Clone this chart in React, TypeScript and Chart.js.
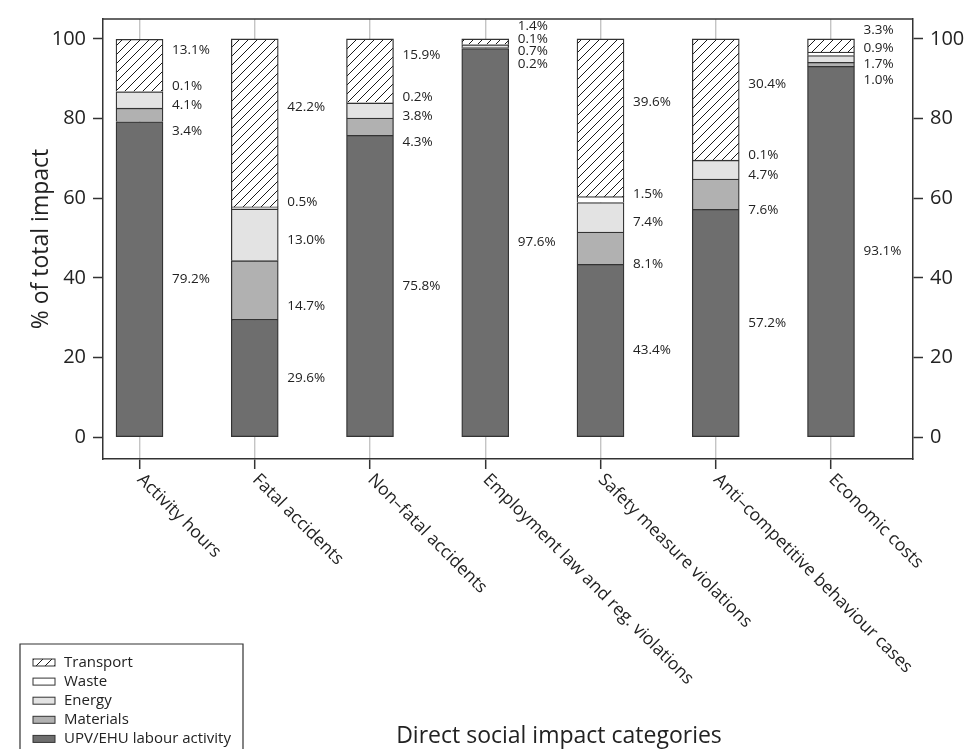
import { useEffect, useRef } from 'react';
import { Chart, registerables } from 'chart.js';

Chart.register(...registerables);

const categories = [
  'Activity hours',
  'Fatal accidents',
  'Non–fatal accidents',
  'Employment law and reg. violations',
  'Safety measure violations',
  'Anti–competitive behaviour cases',
  'Economic costs',
];
const labour = [79.2, 29.6, 75.8, 97.6, 43.4, 57.2, 93.1];
const materials = [3.4, 14.7, 4.3, 0.2, 8.1, 7.6, 1.0];
const energy = [4.1, 13.0, 3.8, 0.7, 7.4, 4.7, 1.7];
const waste = [0.1, 0.5, 0.2, 0.1, 1.5, 0.1, 0.9];
const transport = [13.1, 42.2, 15.9, 1.4, 39.6, 30.4, 3.3];
const yTicks = [0, 20, 40, 60, 80, 100];
const seriesNames = ['UPV/EHU labour activity', 'Materials', 'Energy', 'Waste', 'Transport'];

const FONT = '"Open Sans", "DejaVu Sans", sans-serif';
const INK = '#222';
const LINE = '#333';

function makeHatch(): CanvasPattern | string {
  const s = 9;
  const c = document.createElement('canvas');
  c.width = s;
  c.height = s;
  const g = c.getContext('2d');
  if (!g) return '#fff';
  g.fillStyle = '#fff';
  g.fillRect(0, 0, s, s);
  g.strokeStyle = '#1a1a1a';
  g.lineWidth = 1;
  g.beginPath();
  g.moveTo(0, s);
  g.lineTo(s, 0);
  g.moveTo(-s / 2, s / 2);
  g.lineTo(s / 2, -s / 2);
  g.moveTo(s / 2, s * 1.5);
  g.lineTo(s * 1.5, s / 2);
  g.stroke();
  return g.createPattern(c, 'repeat') || '#fff';
}

export default function App() {
  const ref = useRef<HTMLCanvasElement | null>(null);

  useEffect(() => {
    if (!ref.current) return;
    const hatch = makeHatch();
    const fills: any[] = ['#6e6e6e', '#b1b1b1', '#e3e3e3', '#ffffff', hatch];
    const values = [labour, materials, energy, waste, transport];
    const labelShift = [0, 15.7, 5.3, -5.3, -15.7];

    const datasets = values.map((arr, k) => ({
      label: seriesNames[k],
      data: arr.map((v, i) => ({ x: i, y: v })),
      backgroundColor: fills[k],
      borderColor: LINE,
      borderWidth: 1.3,
      borderSkipped: k === 0 ? false : 'bottom',
      barThickness: 47,
      labelShift: labelShift[k],
    }));

    const decor = {
      id: 'decor',
      afterDatasetsDraw(chart: any) {
        const ctx = chart.ctx;
        ctx.save();
        ctx.font = `13.5px ${FONT}`;
        ctx.fillStyle = INK;
        ctx.textAlign = 'left';
        ctx.textBaseline = 'middle';
        chart.data.datasets.forEach((ds: any, di: number) => {
          const meta = chart.getDatasetMeta(di);
          meta.data.forEach((el: any, i: number) => {
            const p = el.getProps(['x', 'y', 'base', 'width'], true);
            const cy = (p.y + p.base) / 2 + ds.labelShift;
            const v = values[di][i];
            ctx.fillText(v.toFixed(1) + '%', p.x + p.width / 2 + 9, cy);
          });
        });
        ctx.restore();
      },
      afterDraw(chart: any) {
        const ctx = chart.ctx;
        const a = chart.chartArea;
        const xs = chart.scales.x;
        ctx.save();
        // top frame line
        ctx.strokeStyle = LINE;
        ctx.lineWidth = 1.5;
        ctx.beginPath();
        ctx.moveTo(a.left, a.top);
        ctx.lineTo(a.right, a.top);
        ctx.stroke();

        // rotated category labels
        ctx.fillStyle = INK;
        ctx.font = `17.5px ${FONT}`;
        ctx.textAlign = 'left';
        ctx.textBaseline = 'middle';
        categories.forEach((c, i) => {
          const px = xs.getPixelForValue(i);
          ctx.save();
          ctx.translate(px + 0.5, a.bottom + 18);
          ctx.rotate(Math.PI / 4);
          ctx.fillText(c, 0, 0);
          ctx.restore();
        });

        // axis titles
        ctx.font = `23px ${FONT}`;
        ctx.textAlign = 'center';
        ctx.textBaseline = 'alphabetic';
        ctx.fillText('Direct social impact categories', 559, 743);
        ctx.save();
        ctx.translate(48, (a.top + a.bottom) / 2);
        ctx.rotate(-Math.PI / 2);
        ctx.textBaseline = 'alphabetic';
        ctx.fillText('% of total impact', 0, 0);
        ctx.restore();

        // legend
        ctx.strokeStyle = LINE;
        ctx.lineWidth = 1.2;
        ctx.beginPath();
        ctx.moveTo(20, 760);
        ctx.lineTo(20, 644);
        ctx.lineTo(243, 644);
        ctx.lineTo(243, 760);
        ctx.stroke();
        ctx.font = `15px ${FONT}`;
        ctx.textAlign = 'left';
        ctx.textBaseline = 'middle';
        const order = [4, 3, 2, 1, 0];
        order.forEach((k, j) => {
          const cy = 662.5 + j * 19.1;
          ctx.fillStyle = fills[k];
          ctx.fillRect(33, cy - 3.5, 22, 7);
          ctx.strokeStyle = LINE;
          ctx.lineWidth = 1;
          ctx.strokeRect(33, cy - 3.5, 22, 7);
          ctx.fillStyle = INK;
          ctx.fillText(seriesNames[k], 64, cy);
        });
        ctx.restore();
      },
    };

    const yAxis = (pos: 'left' | 'right', width: number) => ({
      type: 'linear' as const,
      position: pos,
      min: -5.5,
      max: 105,
      stacked: pos === 'left',
      afterBuildTicks: (s: any) => {
        s.ticks = yTicks.map((v) => ({ value: v }));
      },
      afterFit: (s: any) => {
        s.width = width;
      },
      grid: {
        drawOnChartArea: false,
        drawTicks: true,
        tickLength: 10,
        tickColor: LINE,
        tickWidth: 1.5,
      },
      border: { display: true, color: LINE, width: 1.5 },
      ticks: {
        color: INK,
        font: { size: 20, family: FONT },
        padding: 7,
      },
    });

    const chart = new Chart(ref.current, {
      type: 'bar',
      data: { datasets: datasets as any },
      options: {
        responsive: false,
        animation: false,
        layout: { padding: { top: 11.5, left: 0, right: 0, bottom: 0 } },
        plugins: {
          legend: { display: false },
          tooltip: { enabled: false },
        },
        scales: {
          x: {
            type: 'linear',
            position: 'bottom',
            stacked: true,
            offset: false,
            min: -0.3167,
            max: 6.7115,
            afterBuildTicks: (s: any) => {
              s.ticks = categories.map((_, i) => ({ value: i }));
            },
            afterFit: (s: any) => {
              s.height = 290;
            },
            grid: {
              offset: false,
              color: '#c4c4c4',
              lineWidth: 1.4,
              drawOnChartArea: true,
              drawTicks: true,
              tickLength: 10,
              tickColor: LINE,
              tickWidth: 1.5,
            },
            border: { display: true, color: LINE, width: 1.5 },
            ticks: { display: false },
          },
          y: yAxis('left', 103),
          y2: yAxis('right', 52),
        } as any,
      },
      plugins: [decor],
    });
    return () => chart.destroy();
  }, []);

  return (
    <div style={{ position: 'fixed', left: 0, top: 0, width: 965, height: 749, background: '#fff' }}>
      <canvas ref={ref} width={965} height={749} style={{ width: 965, height: 749, display: 'block' }} />
    </div>
  );
}
